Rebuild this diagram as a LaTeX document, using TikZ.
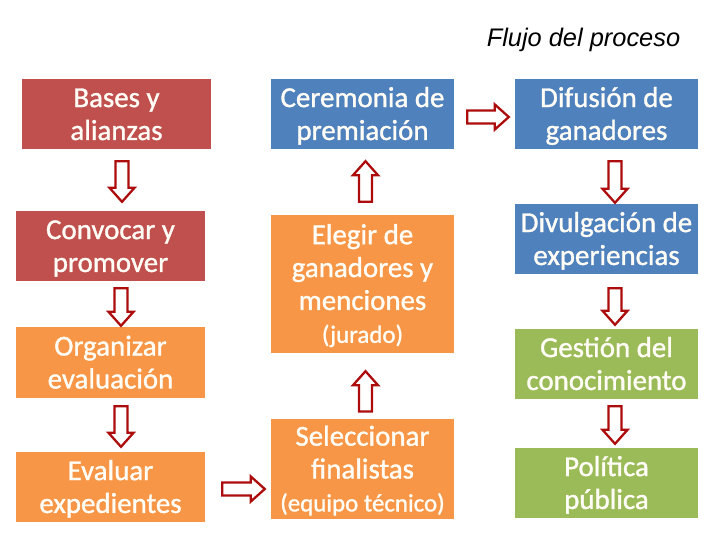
\documentclass[tikz,border=0pt]{standalone}
\usepackage{fontspec}
\setmainfont{Carlito}
\newfontfamily\boxfont{Carlito}[FakeBold=1.2]
\newfontfamily\titlefont{Liberation Sans}
\usetikzlibrary{calc}
\definecolor{cred}{HTML}{C0504D}
\definecolor{corange}{HTML}{F79646}
\definecolor{cblue}{HTML}{4F81BD}
\definecolor{cgreen}{HTML}{9BBB59}
\definecolor{arrred}{RGB}{172,12,12}
\definecolor{ctext}{HTML}{FFFDF6}
\tikzset{
  box/.style={rectangle, inner sep=0pt, text=ctext, align=center,
    font=\boxfont\fontsize{29}{33}\selectfont},
  barrow/.style={draw=arrred, fill=white, line width=2.3bp, line join=miter},
}
\newcommand{\topstrut}{\rule{0pt}{27bp}}
\newcommand{\botstrut}{\rule[-8bp]{0pt}{0pt}}
% vertical block arrow from #1 (start, its x used) to #2 (tip, its y used)
\newcommand{\varrow}[2]{%
  \draw[barrow] let \p1=#1, \p2=#2, \n1={(\y2-\y1)/abs(\y2-\y1)} in
    ({\x1-6.5bp},\y1) -- ({\x1+6.5bp},\y1) -- ({\x1+6.5bp},{\y2-\n1*14bp})
    -- ({\x1+12.5bp},{\y2-\n1*14bp}) -- (\x1,\y2) -- ({\x1-12.5bp},{\y2-\n1*14bp})
    -- ({\x1-6.5bp},{\y2-\n1*14bp}) -- cycle;}
% horizontal block arrow from #1 (start, its y used) to #2 (tip, its x used)
\newcommand{\harrow}[2]{%
  \draw[barrow] let \p1=#1, \p2=#2, \n1={(\x2-\x1)/abs(\x2-\x1)} in
    (\x1,{\y1-6.5bp}) -- (\x1,{\y1+6.5bp}) -- ({\x2-\n1*14bp},{\y1+6.5bp})
    -- ({\x2-\n1*14bp},{\y1+12.5bp}) -- (\x2,\y1) -- ({\x2-\n1*14bp},{\y1-12.5bp})
    -- ({\x2-\n1*14bp},{\y1-6.5bp}) -- cycle;}
\newcommand{\smalltxt}[1]{{\fontsize{25}{33}\selectfont #1}}
\begin{document}
\begin{tikzpicture}[x=1bp,y=-1bp]
\useasboundingbox (0,0) rectangle (720,540);
% title
\node[font=\titlefont\itshape\fontsize{25.5}{28}\selectfont, inner sep=0pt] (title) at (583.5,40) {Flujo del proceso};
% column 1
\node[box, fill=cred, minimum width=189bp, minimum height=70bp] (bases) at (116.5,114) {\topstrut Bases y\\alianzas\botstrut};
\node[box, fill=cred, minimum width=189bp, minimum height=70bp] (conv) at (110.5,246) {\topstrut Convocar y\\promover\botstrut};
\node[box, fill=corange, minimum width=189bp, minimum height=71bp] (org) at (110.5,362.5) {\topstrut Organizar\\evaluación\botstrut};
\node[box, fill=corange, minimum width=189bp, minimum height=70bp] (eval) at (110.5,487) {\topstrut Evaluar\\expedientes\botstrut};
% column 2
\node[box, fill=cblue, minimum width=183bp, minimum height=70bp] (cere) at (362.5,114) {\topstrut Ceremonia de\\premiación\botstrut};
\node[box, fill=corange, minimum width=183bp, minimum height=138bp] (elegir) at (362.5,284) {\topstrut Elegir de\\ganadores y\\menciones\\\smalltxt{(jurado)}\botstrut};
\node[box, fill=corange, minimum width=183bp, minimum height=100bp] (sel) at (362.5,469) {\topstrut Seleccionar\\finalistas\\\smalltxt{(equipo técnico)}\botstrut};
% column 3
\node[box, fill=cblue, minimum width=183bp, minimum height=70bp] (dif) at (606.5,114) {\topstrut Difusión de\\ganadores\botstrut};
\node[box, fill=cblue, minimum width=183bp, minimum height=70bp] (divu) at (606.5,239) {\topstrut Divulgación de\\experiencias\botstrut};
\node[box, fill=cgreen, minimum width=183bp, minimum height=70bp] (gest) at (606.5,364) {\topstrut Gestión del\\conocimiento\botstrut};
\node[box, fill=cgreen, minimum width=183bp, minimum height=70bp] (pol) at (606.5,483) {\topstrut Política\\pública\botstrut};
% arrows column 1
\varrow{($(bases.south)+(5.5,12)$)}{($(conv.north)+(11.5,-9)$)}
\varrow{($(conv.south)+(10.5,7)$)}{($(org.north)+(10.5,-1)$)}
\varrow{($(org.south)+(10.5,8)$)}{($(eval.north)+(10.5,-5)$)}
% arrows column 2
\varrow{($(elegir.north)+(3,-13)$)}{($(cere.south)+(3,12)$)}
\varrow{($(sel.north)+(3,-7)$)}{($(elegir.south)+(3,18)$)}
% arrows column 3
\varrow{($(dif.south)+(8.5,12)$)}{($(divu.north)+(8.5,-1)$)}
\varrow{($(divu.south)+(8.5,14)$)}{($(gest.north)+(8.5,-4)$)}
\varrow{($(gest.south)+(8.5,7)$)}{($(pol.north)+(8.5,-4)$)}
% horizontal arrows
\harrow{($(cere.east)+(13,3)$)}{($(dif.west)+(-6,3)$)}
\harrow{($(eval.east)+(17,2)$)}{($(sel.west)+(-6,2)$)}
\end{tikzpicture}
\end{document}
